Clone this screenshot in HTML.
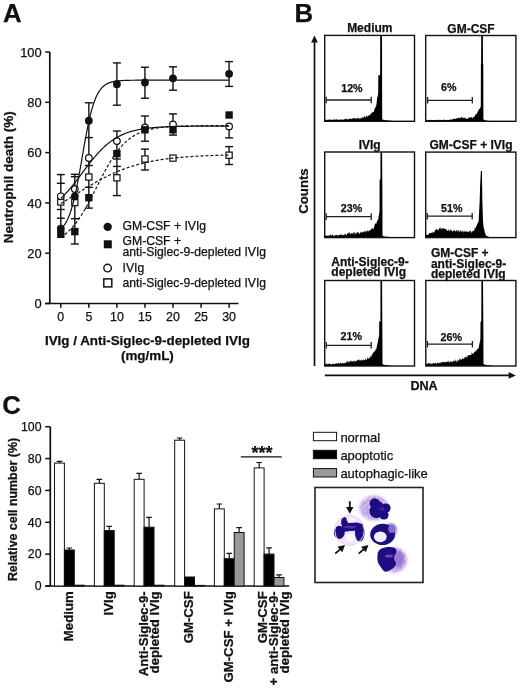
<!DOCTYPE html>
<html><head><meta charset="utf-8"><style>
html,body{margin:0;padding:0;background:#fff;}
svg{display:block;}
text{font-family:"Liberation Sans",Arial,sans-serif;fill:#111;stroke:#111;stroke-width:0.25px;}
</style></head><body>
<svg width="520" height="689" viewBox="0 0 520 689">
<rect width="520" height="689" fill="#fff"/>
<text x="2.90" y="21.80" font-size="25.8" font-weight="bold" text-anchor="start">A</text>
<path d="M49.8 52 V303.5 M45 303.5 H238.5" stroke="#111" stroke-width="1.7" fill="none"/>
<path d="M45.2 303.50 H49.8" stroke="#111" stroke-width="1.5"/>
<text x="41.70" y="308.10" font-size="12.9" text-anchor="end">0</text>
<path d="M45.2 253.20 H49.8" stroke="#111" stroke-width="1.5"/>
<text x="41.70" y="257.80" font-size="12.9" text-anchor="end">20</text>
<path d="M45.2 202.90 H49.8" stroke="#111" stroke-width="1.5"/>
<text x="41.70" y="207.50" font-size="12.9" text-anchor="end">40</text>
<path d="M45.2 152.60 H49.8" stroke="#111" stroke-width="1.5"/>
<text x="41.70" y="157.20" font-size="12.9" text-anchor="end">60</text>
<path d="M45.2 102.30 H49.8" stroke="#111" stroke-width="1.5"/>
<text x="41.70" y="106.90" font-size="12.9" text-anchor="end">80</text>
<path d="M45.2 52.00 H49.8" stroke="#111" stroke-width="1.5"/>
<text x="41.70" y="56.60" font-size="12.9" text-anchor="end">100</text>
<path d="M60.80 303.5 V307.8" stroke="#111" stroke-width="1.5"/>
<text x="60.80" y="321.00" font-size="12.4" text-anchor="middle">0</text>
<path d="M88.85 303.5 V307.8" stroke="#111" stroke-width="1.5"/>
<text x="88.85" y="321.00" font-size="12.4" text-anchor="middle">5</text>
<path d="M116.90 303.5 V307.8" stroke="#111" stroke-width="1.5"/>
<text x="116.90" y="321.00" font-size="12.4" text-anchor="middle">10</text>
<path d="M144.95 303.5 V307.8" stroke="#111" stroke-width="1.5"/>
<text x="144.95" y="321.00" font-size="12.4" text-anchor="middle">15</text>
<path d="M173.00 303.5 V307.8" stroke="#111" stroke-width="1.5"/>
<text x="173.00" y="321.00" font-size="12.4" text-anchor="middle">20</text>
<path d="M201.05 303.5 V307.8" stroke="#111" stroke-width="1.5"/>
<text x="201.05" y="321.00" font-size="12.4" text-anchor="middle">25</text>
<path d="M229.10 303.5 V307.8" stroke="#111" stroke-width="1.5"/>
<text x="229.10" y="321.00" font-size="12.4" text-anchor="middle">30</text>
<text x="13.20" y="177.30" font-size="13.5" font-weight="bold" text-anchor="middle" transform="rotate(-90 13.2 177.3)">Neutrophil death (%)</text>
<text x="147.40" y="345.20" font-size="13.4" font-weight="bold" text-anchor="middle">IVIg / Anti-Siglec-9-depleted IVIg</text>
<text x="147.40" y="359.60" font-size="13.4" font-weight="bold" text-anchor="middle">(mg/mL)</text>
<path d="M60.80 174.6 V229.0" stroke="#111" stroke-width="1.4"/>
<path d="M56.80 174.6 H64.80" stroke="#111" stroke-width="1.4"/>
<path d="M56.80 183.3 H64.80" stroke="#111" stroke-width="1.4"/>
<path d="M56.80 209.5 H64.80" stroke="#111" stroke-width="1.4"/>
<path d="M56.80 218.2 H64.80" stroke="#111" stroke-width="1.4"/>
<path d="M74.83 174.3 V244.0" stroke="#111" stroke-width="1.4"/>
<path d="M70.83 174.3 H78.83" stroke="#111" stroke-width="1.4"/>
<path d="M70.83 176.7 H78.83" stroke="#111" stroke-width="1.4"/>
<path d="M70.83 218.7 H78.83" stroke="#111" stroke-width="1.4"/>
<path d="M70.83 244.0 H78.83" stroke="#111" stroke-width="1.4"/>
<path d="M88.85 102.8 V208.1" stroke="#111" stroke-width="1.4"/>
<path d="M84.85 102.8 H92.85" stroke="#111" stroke-width="1.4"/>
<path d="M84.85 137.6 H92.85" stroke="#111" stroke-width="1.4"/>
<path d="M84.85 165.5 H92.85" stroke="#111" stroke-width="1.4"/>
<path d="M84.85 187.3 H92.85" stroke="#111" stroke-width="1.4"/>
<path d="M84.85 208.1 H92.85" stroke="#111" stroke-width="1.4"/>
<path d="M116.90 62.9 V105.2" stroke="#111" stroke-width="1.4"/>
<path d="M116.90 131.0 V195.6" stroke="#111" stroke-width="1.4"/>
<path d="M112.90 62.9 H120.90" stroke="#111" stroke-width="1.4"/>
<path d="M112.90 105.2 H120.90" stroke="#111" stroke-width="1.4"/>
<path d="M112.90 131.0 H120.90" stroke="#111" stroke-width="1.4"/>
<path d="M112.90 141.1 H120.90" stroke="#111" stroke-width="1.4"/>
<path d="M112.90 166.4 H120.90" stroke="#111" stroke-width="1.4"/>
<path d="M112.90 159.0 H120.90" stroke="#111" stroke-width="1.4"/>
<path d="M112.90 195.6 H120.90" stroke="#111" stroke-width="1.4"/>
<path d="M144.95 67.2 V98.2" stroke="#111" stroke-width="1.4"/>
<path d="M144.95 116.0 V141.2" stroke="#111" stroke-width="1.4"/>
<path d="M144.95 149.1 V170.0" stroke="#111" stroke-width="1.4"/>
<path d="M140.95 67.2 H148.95" stroke="#111" stroke-width="1.4"/>
<path d="M140.95 98.2 H148.95" stroke="#111" stroke-width="1.4"/>
<path d="M140.95 116.0 H148.95" stroke="#111" stroke-width="1.4"/>
<path d="M140.95 141.2 H148.95" stroke="#111" stroke-width="1.4"/>
<path d="M140.95 149.1 H148.95" stroke="#111" stroke-width="1.4"/>
<path d="M140.95 170.0 H148.95" stroke="#111" stroke-width="1.4"/>
<path d="M173.00 66.8 V90.2" stroke="#111" stroke-width="1.4"/>
<path d="M173.00 113.9 V135.1" stroke="#111" stroke-width="1.4"/>
<path d="M169.00 66.8 H177.00" stroke="#111" stroke-width="1.4"/>
<path d="M169.00 90.2 H177.00" stroke="#111" stroke-width="1.4"/>
<path d="M169.00 113.9 H177.00" stroke="#111" stroke-width="1.4"/>
<path d="M169.00 135.1 H177.00" stroke="#111" stroke-width="1.4"/>
<path d="M229.10 61.6 V86.4" stroke="#111" stroke-width="1.4"/>
<path d="M229.10 126.4 V137.9" stroke="#111" stroke-width="1.4"/>
<path d="M229.10 146.6 V164.5" stroke="#111" stroke-width="1.4"/>
<path d="M225.10 61.6 H233.10" stroke="#111" stroke-width="1.4"/>
<path d="M225.10 86.4 H233.10" stroke="#111" stroke-width="1.4"/>
<path d="M225.10 137.9 H233.10" stroke="#111" stroke-width="1.4"/>
<path d="M225.10 146.6 H233.10" stroke="#111" stroke-width="1.4"/>
<path d="M225.10 164.5 H233.10" stroke="#111" stroke-width="1.4"/>
<rect x="57.70" y="198.90" width="6.20" height="6.20" fill="#fff" stroke="#111" stroke-width="1.2"/>
<rect x="71.72" y="199.50" width="6.20" height="6.20" fill="#fff" stroke="#111" stroke-width="1.2"/>
<rect x="85.75" y="173.90" width="6.20" height="6.20" fill="#fff" stroke="#111" stroke-width="1.2"/>
<rect x="113.80" y="174.70" width="6.20" height="6.20" fill="#fff" stroke="#111" stroke-width="1.2"/>
<rect x="141.85" y="155.90" width="6.20" height="6.20" fill="#fff" stroke="#111" stroke-width="1.2"/>
<rect x="169.90" y="155.00" width="6.20" height="6.20" fill="#fff" stroke="#111" stroke-width="1.2"/>
<rect x="226.00" y="152.10" width="6.20" height="6.20" fill="#fff" stroke="#111" stroke-width="1.2"/>
<circle cx="60.80" cy="196.30" r="3.30" fill="#fff" stroke="#111" stroke-width="1.2"/>
<circle cx="74.83" cy="189.10" r="3.30" fill="#fff" stroke="#111" stroke-width="1.2"/>
<circle cx="88.85" cy="158.00" r="3.30" fill="#fff" stroke="#111" stroke-width="1.2"/>
<circle cx="116.90" cy="141.10" r="3.30" fill="#fff" stroke="#111" stroke-width="1.2"/>
<circle cx="144.95" cy="127.50" r="3.30" fill="#fff" stroke="#111" stroke-width="1.2"/>
<circle cx="173.00" cy="124.50" r="3.30" fill="#fff" stroke="#111" stroke-width="1.2"/>
<circle cx="229.10" cy="126.40" r="3.30" fill="#fff" stroke="#111" stroke-width="1.2"/>
<path d="M60.80,228.98 L61.36,228.46 L61.92,227.91 L62.48,227.32 L63.04,226.67 L63.60,225.98 L64.17,225.23 L64.73,224.43 L65.29,223.57 L65.85,222.64 L66.41,221.64 L66.97,220.57 L67.53,219.43 L68.09,218.21 L68.65,216.90 L69.22,215.51 L69.78,214.03 L70.34,212.45 L70.90,210.78 L71.46,209.00 L72.02,207.13 L72.58,205.15 L73.14,203.07 L73.70,200.88 L74.26,198.59 L74.83,196.19 L75.39,193.69 L75.95,191.09 L76.51,188.39 L77.07,185.61 L77.63,182.73 L78.19,179.78 L78.75,176.75 L79.31,173.67 L79.87,170.52 L80.44,167.34 L81.00,164.12 L81.56,160.87 L82.12,157.62 L82.68,154.36 L83.24,151.12 L83.80,147.90 L84.36,144.71 L84.92,141.57 L85.48,138.48 L86.05,135.46 L86.61,132.50 L87.17,129.63 L87.73,126.84 L88.29,124.15 L88.85,121.55 L89.41,119.05 L89.97,116.65 L90.53,114.35 L91.09,112.17 L91.66,110.08 L92.22,108.11 L92.78,106.23 L93.34,104.46 L93.90,102.79 L94.46,101.21 L95.02,99.73 L95.58,98.33 L96.14,97.03 L96.70,95.81 L97.27,94.66 L97.83,93.59 L98.39,92.60 L98.95,91.67 L99.51,90.81 L100.07,90.00 L100.63,89.26 L101.19,88.56 L101.75,87.92 L102.31,87.32 L102.88,86.77 L103.44,86.26 L104.00,85.78 L104.56,85.35 L105.12,84.94 L105.68,84.57 L106.24,84.22 L106.80,83.90 L107.36,83.61 L107.92,83.34 L108.48,83.09 L109.05,82.85 L109.61,82.64 L110.17,82.44 L110.73,82.26 L111.29,82.10 L111.85,81.94 L112.41,81.80 L112.97,81.67 L113.53,81.55 L114.09,81.44 L114.66,81.34 L115.22,81.24 L115.78,81.16 L116.34,81.08 L116.90,81.01 L117.46,80.94 L118.02,80.88 L118.58,80.82 L119.14,80.77 L119.70,80.72 L120.27,80.67 L120.83,80.63 L121.39,80.60 L121.95,80.56 L122.51,80.53 L123.07,80.50 L123.63,80.47 L124.19,80.45 L124.75,80.43 L125.31,80.41 L125.88,80.39 L126.44,80.37 L127.00,80.35 L127.56,80.34 L128.12,80.32 L128.68,80.31 L129.24,80.30 L129.80,80.29 L130.36,80.28 L130.93,80.27 L131.49,80.26 L132.05,80.25 L132.61,80.25 L133.17,80.24 L133.73,80.24 L134.29,80.23 L134.85,80.23 L135.41,80.22 L135.97,80.22 L136.53,80.21 L137.10,80.21 L137.66,80.21 L138.22,80.20 L138.78,80.20 L139.34,80.20 L139.90,80.19 L140.46,80.19 L141.02,80.19 L141.58,80.19 L142.14,80.19 L142.71,80.19 L143.27,80.18 L143.83,80.18 L144.39,80.18 L144.95,80.18 L145.51,80.18 L146.07,80.18 L146.63,80.18 L147.19,80.18 L147.75,80.18 L148.32,80.18 L148.88,80.17 L149.44,80.17 L150.00,80.17 L150.56,80.17 L151.12,80.17 L151.68,80.17 L152.24,80.17 L152.80,80.17 L153.37,80.17 L153.93,80.17 L154.49,80.17 L155.05,80.17 L155.61,80.17 L156.17,80.17 L156.73,80.17 L157.29,80.17 L157.85,80.17 L158.41,80.17 L158.98,80.17 L159.54,80.17 L160.10,80.17 L160.66,80.17 L161.22,80.17 L161.78,80.17 L162.34,80.17 L162.90,80.17 L163.46,80.17 L164.02,80.17 L164.59,80.17 L165.15,80.17 L165.71,80.17 L166.27,80.17 L166.83,80.17 L167.39,80.17 L167.95,80.17 L168.51,80.17 L169.07,80.17 L169.63,80.17 L170.19,80.17 L170.76,80.17 L171.32,80.17 L171.88,80.17 L172.44,80.17 L173.00,80.17 L173.56,80.17 L174.12,80.17 L174.68,80.17 L175.24,80.17 L175.81,80.17 L176.37,80.17 L176.93,80.17 L177.49,80.17 L178.05,80.17 L178.61,80.17 L179.17,80.17 L179.73,80.17 L180.29,80.17 L180.85,80.17 L181.42,80.17 L181.98,80.17 L182.54,80.17 L183.10,80.17 L183.66,80.17 L184.22,80.17 L184.78,80.17 L185.34,80.17 L185.90,80.17 L186.46,80.17 L187.03,80.17 L187.59,80.17 L188.15,80.17 L188.71,80.17 L189.27,80.17 L189.83,80.17 L190.39,80.17 L190.95,80.17 L191.51,80.17 L192.07,80.17 L192.63,80.17 L193.20,80.17 L193.76,80.17 L194.32,80.17 L194.88,80.17 L195.44,80.17 L196.00,80.17 L196.56,80.17 L197.12,80.17 L197.68,80.17 L198.25,80.17 L198.81,80.17 L199.37,80.17 L199.93,80.17 L200.49,80.17 L201.05,80.17 L201.61,80.17 L202.17,80.17 L202.73,80.17 L203.29,80.17 L203.86,80.17 L204.42,80.17 L204.98,80.17 L205.54,80.17 L206.10,80.17 L206.66,80.17 L207.22,80.17 L207.78,80.17 L208.34,80.17 L208.90,80.17 L209.47,80.17 L210.03,80.17 L210.59,80.17 L211.15,80.17 L211.71,80.17 L212.27,80.17 L212.83,80.17 L213.39,80.17 L213.95,80.17 L214.51,80.17 L215.07,80.17 L215.64,80.17 L216.20,80.17 L216.76,80.17 L217.32,80.17 L217.88,80.17 L218.44,80.17 L219.00,80.17 L219.56,80.17 L220.12,80.17 L220.69,80.17 L221.25,80.17 L221.81,80.17 L222.37,80.17 L222.93,80.17 L223.49,80.17 L224.05,80.17 L224.61,80.17 L225.17,80.17 L225.73,80.17 L226.30,80.17 L226.86,80.17 L227.42,80.17 L227.98,80.17 L228.54,80.17 L229.10,80.17" stroke="#111" stroke-width="1.2" fill="none"/>
<path d="M60.80,198.41 L61.36,197.89 L61.92,197.35 L62.48,196.81 L63.04,196.25 L63.60,195.69 L64.17,195.12 L64.73,194.54 L65.29,193.95 L65.85,193.35 L66.41,192.74 L66.97,192.13 L67.53,191.50 L68.09,190.87 L68.65,190.23 L69.22,189.58 L69.78,188.93 L70.34,188.27 L70.90,187.60 L71.46,186.92 L72.02,186.24 L72.58,185.55 L73.14,184.85 L73.70,184.15 L74.26,183.44 L74.83,182.73 L75.39,182.01 L75.95,181.29 L76.51,180.57 L77.07,179.83 L77.63,179.10 L78.19,178.36 L78.75,177.62 L79.31,176.88 L79.87,176.14 L80.44,175.39 L81.00,174.64 L81.56,173.89 L82.12,173.14 L82.68,172.39 L83.24,171.65 L83.80,170.90 L84.36,170.15 L84.92,169.40 L85.48,168.66 L86.05,167.91 L86.61,167.17 L87.17,166.44 L87.73,165.70 L88.29,164.97 L88.85,164.24 L89.41,163.52 L89.97,162.80 L90.53,162.09 L91.09,161.38 L91.66,160.68 L92.22,159.98 L92.78,159.29 L93.34,158.61 L93.90,157.93 L94.46,157.26 L95.02,156.59 L95.58,155.94 L96.14,155.29 L96.70,154.65 L97.27,154.01 L97.83,153.39 L98.39,152.77 L98.95,152.16 L99.51,151.56 L100.07,150.97 L100.63,150.39 L101.19,149.81 L101.75,149.25 L102.31,148.69 L102.88,148.15 L103.44,147.61 L104.00,147.08 L104.56,146.56 L105.12,146.05 L105.68,145.55 L106.24,145.06 L106.80,144.58 L107.36,144.11 L107.92,143.65 L108.48,143.19 L109.05,142.75 L109.61,142.31 L110.17,141.88 L110.73,141.47 L111.29,141.06 L111.85,140.66 L112.41,140.27 L112.97,139.88 L113.53,139.51 L114.09,139.14 L114.66,138.79 L115.22,138.44 L115.78,138.10 L116.34,137.76 L116.90,137.44 L117.46,137.12 L118.02,136.81 L118.58,136.51 L119.14,136.21 L119.70,135.93 L120.27,135.65 L120.83,135.37 L121.39,135.11 L121.95,134.85 L122.51,134.60 L123.07,134.35 L123.63,134.11 L124.19,133.88 L124.75,133.65 L125.31,133.43 L125.88,133.21 L126.44,133.01 L127.00,132.80 L127.56,132.60 L128.12,132.41 L128.68,132.22 L129.24,132.04 L129.80,131.86 L130.36,131.69 L130.93,131.52 L131.49,131.36 L132.05,131.20 L132.61,131.05 L133.17,130.90 L133.73,130.75 L134.29,130.61 L134.85,130.48 L135.41,130.34 L135.97,130.21 L136.53,130.09 L137.10,129.97 L137.66,129.85 L138.22,129.73 L138.78,129.62 L139.34,129.51 L139.90,129.41 L140.46,129.31 L141.02,129.21 L141.58,129.11 L142.14,129.02 L142.71,128.93 L143.27,128.84 L143.83,128.75 L144.39,128.67 L144.95,128.59 L145.51,128.51 L146.07,128.44 L146.63,128.36 L147.19,128.29 L147.75,128.22 L148.32,128.16 L148.88,128.09 L149.44,128.03 L150.00,127.97 L150.56,127.91 L151.12,127.85 L151.68,127.80 L152.24,127.74 L152.80,127.69 L153.37,127.64 L153.93,127.59 L154.49,127.54 L155.05,127.50 L155.61,127.45 L156.17,127.41 L156.73,127.37 L157.29,127.33 L157.85,127.29 L158.41,127.25 L158.98,127.21 L159.54,127.18 L160.10,127.14 L160.66,127.11 L161.22,127.08 L161.78,127.05 L162.34,127.01 L162.90,126.98 L163.46,126.96 L164.02,126.93 L164.59,126.90 L165.15,126.87 L165.71,126.85 L166.27,126.83 L166.83,126.80 L167.39,126.78 L167.95,126.76 L168.51,126.73 L169.07,126.71 L169.63,126.69 L170.19,126.67 L170.76,126.65 L171.32,126.64 L171.88,126.62 L172.44,126.60 L173.00,126.58 L173.56,126.57 L174.12,126.55 L174.68,126.54 L175.24,126.52 L175.81,126.51 L176.37,126.49 L176.93,126.48 L177.49,126.47 L178.05,126.45 L178.61,126.44 L179.17,126.43 L179.73,126.42 L180.29,126.41 L180.85,126.40 L181.42,126.39 L181.98,126.38 L182.54,126.37 L183.10,126.36 L183.66,126.35 L184.22,126.34 L184.78,126.33 L185.34,126.32 L185.90,126.31 L186.46,126.31 L187.03,126.30 L187.59,126.29 L188.15,126.28 L188.71,126.28 L189.27,126.27 L189.83,126.26 L190.39,126.26 L190.95,126.25 L191.51,126.25 L192.07,126.24 L192.63,126.24 L193.20,126.23 L193.76,126.22 L194.32,126.22 L194.88,126.21 L195.44,126.21 L196.00,126.21 L196.56,126.20 L197.12,126.20 L197.68,126.19 L198.25,126.19 L198.81,126.19 L199.37,126.18 L199.93,126.18 L200.49,126.17 L201.05,126.17 L201.61,126.17 L202.17,126.16 L202.73,126.16 L203.29,126.16 L203.86,126.16 L204.42,126.15 L204.98,126.15 L205.54,126.15 L206.10,126.14 L206.66,126.14 L207.22,126.14 L207.78,126.14 L208.34,126.14 L208.90,126.13 L209.47,126.13 L210.03,126.13 L210.59,126.13 L211.15,126.13 L211.71,126.12 L212.27,126.12 L212.83,126.12 L213.39,126.12 L213.95,126.12 L214.51,126.11 L215.07,126.11 L215.64,126.11 L216.20,126.11 L216.76,126.11 L217.32,126.11 L217.88,126.11 L218.44,126.11 L219.00,126.10 L219.56,126.10 L220.12,126.10 L220.69,126.10 L221.25,126.10 L221.81,126.10 L222.37,126.10 L222.93,126.10 L223.49,126.10 L224.05,126.09 L224.61,126.09 L225.17,126.09 L225.73,126.09 L226.30,126.09 L226.86,126.09 L227.42,126.09 L227.98,126.09 L228.54,126.09 L229.10,126.09" stroke="#111" stroke-width="1.2" fill="none"/>
<path d="M60.80,237.47 L61.36,237.10 L61.92,236.72 L62.48,236.33 L63.04,235.92 L63.60,235.51 L64.17,235.08 L64.73,234.64 L65.29,234.19 L65.85,233.72 L66.41,233.24 L66.97,232.75 L67.53,232.25 L68.09,231.73 L68.65,231.20 L69.22,230.65 L69.78,230.09 L70.34,229.52 L70.90,228.93 L71.46,228.33 L72.02,227.71 L72.58,227.08 L73.14,226.43 L73.70,225.77 L74.26,225.09 L74.83,224.39 L75.39,223.68 L75.95,222.96 L76.51,222.22 L77.07,221.47 L77.63,220.69 L78.19,219.91 L78.75,219.11 L79.31,218.29 L79.87,217.46 L80.44,216.61 L81.00,215.75 L81.56,214.88 L82.12,213.99 L82.68,213.08 L83.24,212.16 L83.80,211.23 L84.36,210.28 L84.92,209.33 L85.48,208.35 L86.05,207.37 L86.61,206.38 L87.17,205.37 L87.73,204.35 L88.29,203.33 L88.85,202.29 L89.41,201.24 L89.97,200.19 L90.53,199.12 L91.09,198.05 L91.66,196.97 L92.22,195.89 L92.78,194.80 L93.34,193.70 L93.90,192.60 L94.46,191.50 L95.02,190.40 L95.58,189.29 L96.14,188.18 L96.70,187.07 L97.27,185.96 L97.83,184.85 L98.39,183.74 L98.95,182.64 L99.51,181.53 L100.07,180.43 L100.63,179.34 L101.19,178.25 L101.75,177.16 L102.31,176.09 L102.88,175.01 L103.44,173.95 L104.00,172.89 L104.56,171.85 L105.12,170.81 L105.68,169.78 L106.24,168.77 L106.80,167.76 L107.36,166.76 L107.92,165.78 L108.48,164.81 L109.05,163.85 L109.61,162.91 L110.17,161.97 L110.73,161.06 L111.29,160.15 L111.85,159.26 L112.41,158.38 L112.97,157.52 L113.53,156.68 L114.09,155.85 L114.66,155.03 L115.22,154.23 L115.78,153.44 L116.34,152.67 L116.90,151.92 L117.46,151.18 L118.02,150.45 L118.58,149.74 L119.14,149.05 L119.70,148.37 L120.27,147.71 L120.83,147.06 L121.39,146.43 L121.95,145.81 L122.51,145.21 L123.07,144.62 L123.63,144.04 L124.19,143.48 L124.75,142.94 L125.31,142.41 L125.88,141.89 L126.44,141.38 L127.00,140.89 L127.56,140.41 L128.12,139.95 L128.68,139.50 L129.24,139.06 L129.80,138.63 L130.36,138.21 L130.93,137.81 L131.49,137.42 L132.05,137.04 L132.61,136.67 L133.17,136.31 L133.73,135.96 L134.29,135.62 L134.85,135.29 L135.41,134.97 L135.97,134.66 L136.53,134.36 L137.10,134.07 L137.66,133.79 L138.22,133.52 L138.78,133.26 L139.34,133.00 L139.90,132.75 L140.46,132.51 L141.02,132.28 L141.58,132.05 L142.14,131.83 L142.71,131.62 L143.27,131.42 L143.83,131.22 L144.39,131.03 L144.95,130.84 L145.51,130.66 L146.07,130.49 L146.63,130.32 L147.19,130.16 L147.75,130.00 L148.32,129.85 L148.88,129.70 L149.44,129.56 L150.00,129.42 L150.56,129.29 L151.12,129.16 L151.68,129.04 L152.24,128.92 L152.80,128.80 L153.37,128.69 L153.93,128.58 L154.49,128.48 L155.05,128.38 L155.61,128.28 L156.17,128.19 L156.73,128.09 L157.29,128.01 L157.85,127.92 L158.41,127.84 L158.98,127.76 L159.54,127.68 L160.10,127.61 L160.66,127.54 L161.22,127.47 L161.78,127.40 L162.34,127.34 L162.90,127.28 L163.46,127.22 L164.02,127.16 L164.59,127.10 L165.15,127.05 L165.71,127.00 L166.27,126.95 L166.83,126.90 L167.39,126.85 L167.95,126.81 L168.51,126.76 L169.07,126.72 L169.63,126.68 L170.19,126.64 L170.76,126.60 L171.32,126.57 L171.88,126.53 L172.44,126.50 L173.00,126.46 L173.56,126.43 L174.12,126.40 L174.68,126.37 L175.24,126.34 L175.81,126.32 L176.37,126.29 L176.93,126.26 L177.49,126.24 L178.05,126.22 L178.61,126.19 L179.17,126.17 L179.73,126.15 L180.29,126.13 L180.85,126.11 L181.42,126.09 L181.98,126.07 L182.54,126.05 L183.10,126.04 L183.66,126.02 L184.22,126.00 L184.78,125.99 L185.34,125.97 L185.90,125.96 L186.46,125.94 L187.03,125.93 L187.59,125.92 L188.15,125.91 L188.71,125.89 L189.27,125.88 L189.83,125.87 L190.39,125.86 L190.95,125.85 L191.51,125.84 L192.07,125.83 L192.63,125.82 L193.20,125.81 L193.76,125.80 L194.32,125.79 L194.88,125.79 L195.44,125.78 L196.00,125.77 L196.56,125.76 L197.12,125.76 L197.68,125.75 L198.25,125.74 L198.81,125.74 L199.37,125.73 L199.93,125.72 L200.49,125.72 L201.05,125.71 L201.61,125.71 L202.17,125.70 L202.73,125.70 L203.29,125.69 L203.86,125.69 L204.42,125.68 L204.98,125.68 L205.54,125.68 L206.10,125.67 L206.66,125.67 L207.22,125.66 L207.78,125.66 L208.34,125.66 L208.90,125.65 L209.47,125.65 L210.03,125.65 L210.59,125.64 L211.15,125.64 L211.71,125.64 L212.27,125.64 L212.83,125.63 L213.39,125.63 L213.95,125.63 L214.51,125.63 L215.07,125.62 L215.64,125.62 L216.20,125.62 L216.76,125.62 L217.32,125.62 L217.88,125.61 L218.44,125.61 L219.00,125.61 L219.56,125.61 L220.12,125.61 L220.69,125.61 L221.25,125.60 L221.81,125.60 L222.37,125.60 L222.93,125.60 L223.49,125.60 L224.05,125.60 L224.61,125.60 L225.17,125.60 L225.73,125.59 L226.30,125.59 L226.86,125.59 L227.42,125.59 L227.98,125.59 L228.54,125.59 L229.10,125.59" stroke="#111" stroke-width="1.2" fill="none" stroke-dasharray="3 2"/>
<path d="M60.80,203.59 L61.36,203.26 L61.92,202.92 L62.48,202.58 L63.04,202.24 L63.60,201.90 L64.17,201.56 L64.73,201.22 L65.29,200.87 L65.85,200.53 L66.41,200.18 L66.97,199.84 L67.53,199.49 L68.09,199.14 L68.65,198.80 L69.22,198.45 L69.78,198.10 L70.34,197.75 L70.90,197.40 L71.46,197.05 L72.02,196.70 L72.58,196.35 L73.14,196.00 L73.70,195.65 L74.26,195.30 L74.83,194.95 L75.39,194.59 L75.95,194.24 L76.51,193.89 L77.07,193.54 L77.63,193.19 L78.19,192.84 L78.75,192.49 L79.31,192.14 L79.87,191.79 L80.44,191.44 L81.00,191.10 L81.56,190.75 L82.12,190.40 L82.68,190.05 L83.24,189.71 L83.80,189.36 L84.36,189.02 L84.92,188.68 L85.48,188.34 L86.05,187.99 L86.61,187.65 L87.17,187.32 L87.73,186.98 L88.29,186.64 L88.85,186.31 L89.41,185.97 L89.97,185.64 L90.53,185.31 L91.09,184.98 L91.66,184.65 L92.22,184.32 L92.78,183.99 L93.34,183.67 L93.90,183.35 L94.46,183.02 L95.02,182.70 L95.58,182.39 L96.14,182.07 L96.70,181.76 L97.27,181.44 L97.83,181.13 L98.39,180.82 L98.95,180.52 L99.51,180.21 L100.07,179.91 L100.63,179.60 L101.19,179.31 L101.75,179.01 L102.31,178.71 L102.88,178.42 L103.44,178.13 L104.00,177.84 L104.56,177.55 L105.12,177.26 L105.68,176.98 L106.24,176.70 L106.80,176.42 L107.36,176.15 L107.92,175.87 L108.48,175.60 L109.05,175.33 L109.61,175.06 L110.17,174.80 L110.73,174.53 L111.29,174.27 L111.85,174.01 L112.41,173.76 L112.97,173.50 L113.53,173.25 L114.09,173.00 L114.66,172.76 L115.22,172.51 L115.78,172.27 L116.34,172.03 L116.90,171.79 L117.46,171.56 L118.02,171.32 L118.58,171.09 L119.14,170.86 L119.70,170.64 L120.27,170.41 L120.83,170.19 L121.39,169.97 L121.95,169.76 L122.51,169.54 L123.07,169.33 L123.63,169.12 L124.19,168.91 L124.75,168.71 L125.31,168.50 L125.88,168.30 L126.44,168.11 L127.00,167.91 L127.56,167.72 L128.12,167.52 L128.68,167.33 L129.24,167.15 L129.80,166.96 L130.36,166.78 L130.93,166.60 L131.49,166.42 L132.05,166.24 L132.61,166.07 L133.17,165.90 L133.73,165.73 L134.29,165.56 L134.85,165.39 L135.41,165.23 L135.97,165.07 L136.53,164.91 L137.10,164.75 L137.66,164.60 L138.22,164.44 L138.78,164.29 L139.34,164.14 L139.90,163.99 L140.46,163.85 L141.02,163.70 L141.58,163.56 L142.14,163.42 L142.71,163.28 L143.27,163.15 L143.83,163.01 L144.39,162.88 L144.95,162.75 L145.51,162.62 L146.07,162.49 L146.63,162.37 L147.19,162.24 L147.75,162.12 L148.32,162.00 L148.88,161.88 L149.44,161.77 L150.00,161.65 L150.56,161.54 L151.12,161.42 L151.68,161.31 L152.24,161.21 L152.80,161.10 L153.37,160.99 L153.93,160.89 L154.49,160.78 L155.05,160.68 L155.61,160.58 L156.17,160.48 L156.73,160.39 L157.29,160.29 L157.85,160.20 L158.41,160.10 L158.98,160.01 L159.54,159.92 L160.10,159.83 L160.66,159.75 L161.22,159.66 L161.78,159.58 L162.34,159.49 L162.90,159.41 L163.46,159.33 L164.02,159.25 L164.59,159.17 L165.15,159.09 L165.71,159.02 L166.27,158.94 L166.83,158.87 L167.39,158.79 L167.95,158.72 L168.51,158.65 L169.07,158.58 L169.63,158.51 L170.19,158.44 L170.76,158.38 L171.32,158.31 L171.88,158.25 L172.44,158.19 L173.00,158.12 L173.56,158.06 L174.12,158.00 L174.68,157.94 L175.24,157.88 L175.81,157.82 L176.37,157.77 L176.93,157.71 L177.49,157.66 L178.05,157.60 L178.61,157.55 L179.17,157.50 L179.73,157.45 L180.29,157.39 L180.85,157.34 L181.42,157.29 L181.98,157.25 L182.54,157.20 L183.10,157.15 L183.66,157.11 L184.22,157.06 L184.78,157.02 L185.34,156.97 L185.90,156.93 L186.46,156.89 L187.03,156.84 L187.59,156.80 L188.15,156.76 L188.71,156.72 L189.27,156.68 L189.83,156.64 L190.39,156.61 L190.95,156.57 L191.51,156.53 L192.07,156.50 L192.63,156.46 L193.20,156.42 L193.76,156.39 L194.32,156.36 L194.88,156.32 L195.44,156.29 L196.00,156.26 L196.56,156.23 L197.12,156.20 L197.68,156.16 L198.25,156.13 L198.81,156.10 L199.37,156.08 L199.93,156.05 L200.49,156.02 L201.05,155.99 L201.61,155.96 L202.17,155.94 L202.73,155.91 L203.29,155.88 L203.86,155.86 L204.42,155.83 L204.98,155.81 L205.54,155.78 L206.10,155.76 L206.66,155.74 L207.22,155.71 L207.78,155.69 L208.34,155.67 L208.90,155.65 L209.47,155.62 L210.03,155.60 L210.59,155.58 L211.15,155.56 L211.71,155.54 L212.27,155.52 L212.83,155.50 L213.39,155.48 L213.95,155.46 L214.51,155.44 L215.07,155.43 L215.64,155.41 L216.20,155.39 L216.76,155.37 L217.32,155.36 L217.88,155.34 L218.44,155.32 L219.00,155.31 L219.56,155.29 L220.12,155.27 L220.69,155.26 L221.25,155.24 L221.81,155.23 L222.37,155.21 L222.93,155.20 L223.49,155.19 L224.05,155.17 L224.61,155.16 L225.17,155.14 L225.73,155.13 L226.30,155.12 L226.86,155.11 L227.42,155.09 L227.98,155.08 L228.54,155.07 L229.10,155.06" stroke="#111" stroke-width="1.2" fill="none" stroke-dasharray="3 2"/>
<rect x="57.10" y="230.60" width="7.4" height="7.4" fill="#111"/>
<rect x="71.12" y="227.90" width="7.4" height="7.4" fill="#111"/>
<rect x="85.15" y="194.00" width="7.4" height="7.4" fill="#111"/>
<rect x="113.20" y="149.90" width="7.4" height="7.4" fill="#111"/>
<rect x="141.25" y="126.10" width="7.4" height="7.4" fill="#111"/>
<rect x="169.30" y="126.10" width="7.4" height="7.4" fill="#111"/>
<rect x="225.40" y="111.30" width="7.4" height="7.4" fill="#111"/>
<circle cx="60.80" cy="228.60" r="3.9" fill="#111"/>
<circle cx="74.83" cy="196.40" r="3.9" fill="#111"/>
<circle cx="88.85" cy="120.70" r="3.9" fill="#111"/>
<circle cx="116.90" cy="84.20" r="3.9" fill="#111"/>
<circle cx="144.95" cy="82.50" r="3.9" fill="#111"/>
<circle cx="173.00" cy="78.30" r="3.9" fill="#111"/>
<circle cx="229.10" cy="73.80" r="3.9" fill="#111"/>
<circle cx="107.7" cy="226.9" r="4.2" fill="#111"/>
<rect x="103.8" y="240.3" width="8.0" height="8.0" fill="#111"/>
<circle cx="107.6" cy="268.1" r="3.8" fill="#fff" stroke="#111" stroke-width="1.4"/>
<rect x="103.8" y="278.9" width="8.0" height="8.0" fill="#fff" stroke="#111" stroke-width="1.5"/>
<text x="122.50" y="230.10" font-size="12.2" text-anchor="start">GM-CSF + IVIg</text>
<text x="122.50" y="245.30" font-size="12.2" text-anchor="start">GM-CSF +</text>
<text x="122.50" y="255.60" font-size="12.2" text-anchor="start">anti-Siglec-9-depleted IVIg</text>
<text x="122.50" y="272.20" font-size="12.2" text-anchor="start">IVIg</text>
<text x="122.50" y="286.90" font-size="12.2" text-anchor="start">anti-Siglec-9-depleted IVIg</text>
<text x="294.60" y="21.80" font-size="25.8" font-weight="bold" text-anchor="start">B</text>
<polygon points="324.7,121.3 324.7,119.33 325.1,119.67 325.5,119.75 325.9,120.27 326.3,119.84 326.7,119.85 327.1,119.76 327.5,119.90 327.9,119.73 328.3,119.84 328.7,120.07 329.1,119.44 329.5,119.43 329.9,119.18 330.3,119.65 330.7,119.77 331.1,119.80 331.5,120.08 331.9,119.33 332.3,119.94 332.7,119.95 333.1,119.65 333.5,119.14 333.9,119.50 334.3,119.87 334.7,119.77 335.1,119.35 335.5,119.58 335.9,119.76 336.3,119.59 336.7,119.27 337.1,118.87 337.5,119.88 337.9,119.67 338.3,119.72 338.7,120.24 339.1,119.75 339.5,119.77 339.9,119.06 340.3,119.46 340.7,119.94 341.1,119.18 341.5,119.51 341.9,119.96 342.3,119.57 342.7,119.56 343.1,119.65 343.5,119.33 343.9,120.10 344.3,119.41 344.7,118.95 345.1,118.99 345.5,118.87 345.9,118.83 346.3,118.65 346.7,119.59 347.1,118.82 347.5,119.82 347.9,119.31 348.3,119.80 348.7,118.60 349.1,118.44 349.5,119.03 349.9,118.18 350.3,119.18 350.7,118.80 351.1,118.76 351.5,119.27 351.9,118.58 352.3,117.87 352.7,119.17 353.1,118.26 353.5,118.72 353.9,117.78 354.3,118.35 354.7,118.23 355.1,118.21 355.5,118.37 355.9,119.15 356.3,117.73 356.7,119.10 357.1,118.25 357.5,118.02 357.9,118.75 358.3,118.17 358.7,117.53 359.1,118.11 359.5,118.53 359.9,119.66 360.3,118.45 360.7,118.16 361.1,118.04 361.5,118.26 361.9,117.32 362.3,117.88 362.7,117.49 363.1,116.87 363.5,117.87 363.9,117.41 364.3,115.54 364.7,116.39 365.1,117.95 365.5,116.96 365.9,116.38 366.3,115.65 366.7,116.32 367.1,116.72 367.5,116.71 367.9,115.26 368.3,115.37 368.7,115.92 369.1,115.42 369.5,115.43 369.9,114.19 370.3,115.14 370.7,113.68 371.1,112.96 371.5,112.90 371.9,113.71 372.3,111.34 372.7,112.79 373.1,111.40 373.5,112.08 373.9,112.26 374.3,109.64 374.7,108.75 375.1,108.25 375.5,107.09 375.9,107.10 376.3,105.20 376.7,102.32 377.1,98.06 377.5,96.69 377.9,95.55 378.20,93.30 378.30,75.30 380.10,75.30 380.20,35.40 382.00,35.40 382.20,119.30 384.00,120.10 389.00,120.50 395.00,121.30 414.5,121.3" fill="#000"/>
<rect x="324.7" y="35.4" width="89.8" height="85.9" fill="none" stroke="#111" stroke-width="1.4"/>
<polygon points="425.7,121.3 425.7,119.96 426.1,120.21 426.5,120.20 426.9,119.87 427.3,120.21 427.7,120.49 428.1,120.29 428.5,120.04 428.9,120.03 429.3,119.75 429.7,120.23 430.1,119.87 430.5,119.94 430.9,120.07 431.3,119.83 431.7,119.91 432.1,120.23 432.5,119.75 432.9,120.31 433.3,119.99 433.7,120.00 434.1,119.89 434.5,120.17 434.9,119.99 435.3,120.02 435.7,119.73 436.1,120.17 436.5,119.95 436.9,120.03 437.3,120.27 437.7,119.30 438.1,119.96 438.5,120.31 438.9,119.59 439.3,120.19 439.7,119.84 440.1,119.71 440.5,120.08 440.9,120.02 441.3,120.04 441.7,119.93 442.1,120.30 442.5,120.20 442.9,119.92 443.3,119.63 443.7,119.72 444.1,119.44 444.5,119.69 444.9,119.99 445.3,119.89 445.7,120.37 446.1,120.09 446.5,120.10 446.9,119.77 447.3,119.67 447.7,119.97 448.1,119.98 448.5,120.22 448.9,119.85 449.3,119.74 449.7,119.69 450.1,119.99 450.5,119.15 450.9,119.28 451.3,119.59 451.7,119.65 452.1,119.51 452.5,119.28 452.9,119.26 453.3,119.00 453.7,118.81 454.1,118.49 454.5,118.49 454.9,118.93 455.3,118.64 455.7,118.91 456.1,118.93 456.5,117.67 456.9,118.73 457.3,117.43 457.7,118.54 458.1,118.14 458.5,117.58 458.9,118.06 459.3,117.75 459.7,118.02 460.1,118.07 460.5,117.78 460.9,118.00 461.3,116.38 461.7,117.49 462.1,116.14 462.5,119.28 462.9,117.63 463.3,117.44 463.7,118.11 464.1,117.47 464.5,117.89 464.9,118.53 465.3,118.33 465.7,117.40 466.1,118.67 466.5,118.58 466.9,118.85 467.3,118.52 467.7,119.14 468.1,118.55 468.5,117.13 468.9,117.76 469.3,117.91 469.7,117.58 470.1,117.07 470.5,117.71 470.9,116.78 471.3,117.28 471.7,117.75 472.1,116.67 472.5,119.06 472.9,117.64 473.3,116.79 473.7,117.47 474.1,116.62 474.5,116.80 474.9,116.58 475.3,113.27 475.7,114.92 476.1,115.20 476.5,113.33 476.9,114.13 477.3,112.49 477.7,112.04 478.1,109.94 478.5,111.77 478.9,108.84 479.3,108.69 479.7,109.19 480.80,106.30 480.90,64.30 481.10,64.30 481.20,35.50 482.90,35.50 483.00,64.30 483.30,64.30 483.40,119.30 485.00,120.30 490.00,121.30 515.9,121.3" fill="#000"/>
<rect x="425.7" y="35.5" width="90.2" height="85.8" fill="none" stroke="#111" stroke-width="1.4"/>
<polygon points="324.7,237.6 324.7,235.46 325.1,236.05 325.5,235.23 325.9,235.56 326.3,235.47 326.7,235.65 327.1,235.35 327.5,236.28 327.9,235.58 328.3,235.81 328.7,235.46 329.1,235.56 329.5,235.29 329.9,235.80 330.3,234.78 330.7,234.57 331.1,235.50 331.5,235.40 331.9,235.26 332.3,234.85 332.7,234.57 333.1,235.79 333.5,235.53 333.9,235.69 334.3,235.69 334.7,235.89 335.1,235.03 335.5,235.66 335.9,234.49 336.3,234.72 336.7,235.54 337.1,235.52 337.5,235.32 337.9,234.39 338.3,235.38 338.7,235.66 339.1,234.97 339.5,234.75 339.9,235.21 340.3,234.11 340.7,234.74 341.1,234.61 341.5,235.23 341.9,234.80 342.3,234.84 342.7,235.87 343.1,234.57 343.5,235.60 343.9,234.68 344.3,235.40 344.7,233.56 345.1,234.39 345.5,233.94 345.9,233.73 346.3,234.93 346.7,235.42 347.1,234.04 347.5,233.06 347.9,233.47 348.3,232.80 348.7,232.52 349.1,234.34 349.5,232.94 349.9,231.61 350.3,233.57 350.7,234.70 351.1,233.26 351.5,233.42 351.9,232.70 352.3,233.73 352.7,232.92 353.1,234.77 353.5,232.25 353.9,231.63 354.3,231.84 354.7,234.13 355.1,232.60 355.5,235.33 355.9,232.58 356.3,232.85 356.7,233.62 357.1,232.46 357.5,232.62 357.9,231.91 358.3,232.58 358.7,232.47 359.1,234.33 359.5,233.64 359.9,233.02 360.3,232.29 360.7,232.49 361.1,231.06 361.5,233.14 361.9,232.50 362.3,231.98 362.7,232.36 363.1,231.63 363.5,232.54 363.9,230.66 364.3,232.17 364.7,230.80 365.1,231.78 365.5,230.33 365.9,232.89 366.3,230.97 366.7,231.63 367.1,230.81 367.5,229.73 367.9,231.64 368.3,231.59 368.7,231.09 369.1,229.74 369.5,231.47 369.9,229.46 370.3,230.51 370.7,230.17 371.1,229.25 371.5,228.36 371.9,229.06 372.3,228.73 372.7,228.11 373.1,228.11 373.5,230.09 373.9,227.47 374.3,226.31 374.7,224.70 375.1,223.15 375.5,223.71 375.9,223.56 376.3,223.81 376.7,222.16 377.1,220.85 377.5,219.71 377.9,220.97 379.50,211.60 379.60,179.60 380.40,179.60 380.50,152.00 382.10,152.00 382.30,179.60 382.40,197.60 382.50,235.60 384.00,236.40 388.00,236.80 392.00,237.60 414.5,237.6" fill="#000"/>
<rect x="324.7" y="152.0" width="89.8" height="85.6" fill="none" stroke="#111" stroke-width="1.4"/>
<polygon points="425.7,237.6 425.7,235.52 426.1,235.10 426.5,234.44 426.9,234.91 427.3,235.10 427.7,235.00 428.1,234.65 428.5,234.65 428.9,233.57 429.3,233.19 429.7,233.20 430.1,232.65 430.5,233.65 430.9,232.83 431.3,233.25 431.7,232.71 432.1,231.46 432.5,232.33 432.9,233.76 433.3,232.05 433.7,232.23 434.1,232.71 434.5,231.82 434.9,229.99 435.3,229.09 435.7,230.82 436.1,229.23 436.5,228.83 436.9,230.72 437.3,229.58 437.7,229.52 438.1,229.25 438.5,230.79 438.9,229.58 439.3,228.23 439.7,227.98 440.1,227.39 440.5,229.29 440.9,227.21 441.3,228.24 441.7,230.01 442.1,228.01 442.5,228.96 442.9,228.18 443.3,228.86 443.7,227.78 444.1,228.76 444.5,229.37 444.9,228.34 445.3,229.10 445.7,229.82 446.1,228.40 446.5,230.05 446.9,230.37 447.3,230.39 447.7,231.35 448.1,230.61 448.5,228.44 448.9,230.99 449.3,230.19 449.7,231.23 450.1,230.81 450.5,228.90 450.9,229.49 451.3,230.89 451.7,230.36 452.1,231.14 452.5,231.14 452.9,231.28 453.3,231.29 453.7,230.21 454.1,229.99 454.5,230.12 454.9,230.75 455.3,231.87 455.7,230.73 456.1,231.55 456.5,229.95 456.9,230.28 457.3,230.15 457.7,231.19 458.1,232.56 458.5,230.08 458.9,229.87 459.3,232.38 459.7,230.94 460.1,230.02 460.5,232.13 460.9,229.58 461.3,231.55 461.7,232.25 462.1,230.06 462.5,231.08 462.9,231.98 463.3,230.63 463.7,233.25 464.1,229.86 464.5,232.29 464.9,231.33 465.3,231.94 465.7,231.16 466.1,230.72 466.5,232.25 466.9,230.76 467.3,231.72 467.7,232.06 468.1,231.61 468.5,232.29 468.9,232.08 469.3,230.46 469.7,231.44 470.1,230.24 470.5,230.86 470.9,232.16 471.3,232.93 471.7,231.80 472.1,230.91 472.5,231.12 472.9,231.86 473.3,229.73 473.7,231.79 474.1,230.89 474.5,229.18 474.9,226.85 475.3,228.01 475.7,228.85 476.1,226.83 476.5,225.82 476.9,224.67 478.60,221.60 479.60,202.60 480.20,183.60 480.90,170.90 482.00,170.90 482.10,183.60 482.40,202.60 483.00,221.60 483.70,227.60 484.90,232.60 486.00,235.60 488.00,236.60 491.00,237.60 515.9,237.6" fill="#000"/>
<rect x="425.7" y="152.1" width="90.2" height="85.5" fill="none" stroke="#111" stroke-width="1.4"/>
<polygon points="324.7,366.0 324.7,364.33 325.1,364.43 325.5,364.11 325.9,363.99 326.3,363.58 326.7,363.38 327.1,364.31 327.5,364.21 327.9,364.03 328.3,364.08 328.7,363.79 329.1,363.76 329.5,363.82 329.9,363.40 330.3,363.93 330.7,364.24 331.1,364.42 331.5,364.19 331.9,364.18 332.3,364.49 332.7,363.46 333.1,363.63 333.5,363.85 333.9,364.02 334.3,364.29 334.7,363.99 335.1,362.80 335.5,364.50 335.9,363.48 336.3,363.19 336.7,363.43 337.1,363.61 337.5,363.10 337.9,363.92 338.3,363.14 338.7,362.71 339.1,363.83 339.5,363.71 339.9,363.24 340.3,362.81 340.7,362.61 341.1,362.90 341.5,363.53 341.9,363.73 342.3,363.04 342.7,362.94 343.1,363.67 343.5,363.06 343.9,362.89 344.3,362.50 344.7,363.53 345.1,362.67 345.5,363.48 345.9,362.95 346.3,362.61 346.7,361.49 347.1,360.15 347.5,362.00 347.9,361.69 348.3,361.25 348.7,362.89 349.1,361.31 349.5,362.72 349.9,360.55 350.3,360.63 350.7,361.28 351.1,362.23 351.5,360.27 351.9,361.31 352.3,361.37 352.7,360.95 353.1,362.75 353.5,360.96 353.9,360.44 354.3,360.93 354.7,361.04 355.1,361.93 355.5,360.51 355.9,360.84 356.3,360.95 356.7,361.41 357.1,360.09 357.5,359.68 357.9,360.41 358.3,359.90 358.7,359.46 359.1,359.17 359.5,360.36 359.9,360.71 360.3,360.83 360.7,360.37 361.1,359.81 361.5,359.40 361.9,360.57 362.3,359.98 362.7,360.96 363.1,358.83 363.5,360.27 363.9,359.52 364.3,360.44 364.7,359.99 365.1,360.27 365.5,358.03 365.9,359.19 366.3,359.45 366.7,359.90 367.1,359.32 367.5,357.98 367.9,356.72 368.3,359.27 368.7,358.53 369.1,357.59 369.5,357.74 369.9,358.41 370.3,356.62 370.7,355.68 371.1,357.54 371.5,355.64 371.9,354.51 372.3,353.88 372.7,354.54 373.1,351.45 373.5,352.42 373.9,353.05 374.3,350.80 374.7,352.10 375.1,349.65 375.5,351.00 375.9,348.51 376.3,349.15 376.7,346.97 377.1,345.24 377.5,343.43 379.10,335.50 379.20,321.60 380.40,321.60 380.50,280.50 382.10,280.50 382.30,321.60 382.40,336.00 382.50,364.00 384.00,364.80 388.00,365.20 392.00,366.00 414.5,366.0" fill="#000"/>
<rect x="324.7" y="280.5" width="89.8" height="85.5" fill="none" stroke="#111" stroke-width="1.4"/>
<polygon points="425.8,366.0 425.8,363.98 426.2,363.57 426.6,364.58 427.0,363.72 427.4,363.69 427.8,363.59 428.2,363.44 428.6,362.25 429.0,363.64 429.4,363.32 429.8,363.54 430.2,362.90 430.6,364.40 431.0,362.74 431.4,363.76 431.8,364.44 432.2,363.87 432.6,363.41 433.0,363.20 433.4,363.28 433.8,362.82 434.2,363.19 434.6,363.17 435.0,364.19 435.4,362.81 435.8,362.49 436.2,363.20 436.6,363.95 437.0,363.63 437.4,361.95 437.8,363.17 438.2,363.16 438.6,363.22 439.0,362.32 439.4,363.02 439.8,363.15 440.2,363.50 440.6,362.63 441.0,361.91 441.4,362.58 441.8,361.90 442.2,362.30 442.6,362.28 443.0,362.22 443.4,362.27 443.8,361.58 444.2,361.90 444.6,362.57 445.0,362.06 445.4,362.16 445.8,361.73 446.2,361.90 446.6,361.70 447.0,362.99 447.4,361.61 447.8,360.87 448.2,362.78 448.6,360.53 449.0,361.45 449.4,361.78 449.8,362.97 450.2,360.66 450.6,362.23 451.0,361.82 451.4,360.92 451.8,362.15 452.2,362.08 452.6,362.17 453.0,361.25 453.4,360.60 453.8,360.70 454.2,360.64 454.6,361.25 455.0,360.77 455.4,361.46 455.8,358.97 456.2,360.56 456.6,362.46 457.0,361.60 457.4,359.12 457.8,361.77 458.2,360.81 458.6,359.87 459.0,361.06 459.4,358.92 459.8,358.18 460.2,360.29 460.6,358.33 461.0,360.00 461.4,359.92 461.8,358.61 462.2,358.45 462.6,359.03 463.0,357.55 463.4,359.47 463.8,358.74 464.2,358.77 464.6,356.92 465.0,356.71 465.4,356.66 465.8,358.27 466.2,356.78 466.6,356.28 467.0,357.97 467.4,357.05 467.8,355.51 468.2,355.26 468.6,355.47 469.0,355.01 469.4,355.01 469.8,354.96 470.2,355.00 470.6,355.49 471.0,354.72 471.4,354.67 471.8,351.99 472.2,353.66 472.6,353.71 473.0,353.71 473.4,353.40 473.8,353.24 474.2,352.08 474.6,352.19 475.0,351.01 475.4,351.96 475.8,350.59 476.2,349.70 476.6,351.13 477.0,349.51 477.4,349.02 477.8,349.14 478.2,348.86 478.60,348.00 480.40,339.30 480.50,321.60 481.30,321.60 481.40,280.50 483.00,280.50 483.30,321.60 483.40,336.00 483.50,364.00 485.00,364.80 489.00,365.20 493.00,366.00 515.9,366.0" fill="#000"/>
<rect x="425.8" y="280.5" width="90.1" height="85.5" fill="none" stroke="#111" stroke-width="1.4"/>
<text x="369.80" y="32.30" font-size="12.0" font-weight="bold" text-anchor="middle">Medium</text>
<text x="471.00" y="32.70" font-size="12.0" font-weight="bold" text-anchor="middle">GM-CSF</text>
<text x="369.70" y="148.80" font-size="12.0" font-weight="bold" text-anchor="middle">IVIg</text>
<text x="471.00" y="148.80" font-size="12.0" font-weight="bold" text-anchor="middle">GM-CSF + IVIg</text>
<text x="331.30" y="265.60" font-size="12.0" font-weight="bold" text-anchor="start">Anti-Siglec-9-</text>
<text x="331.30" y="275.60" font-size="12.0" font-weight="bold" text-anchor="start">depleted IVIg</text>
<text x="430.90" y="257.00" font-size="12.0" font-weight="bold" text-anchor="start">GM-CSF +</text>
<text x="430.90" y="267.50" font-size="12.0" font-weight="bold" text-anchor="start">anti-Siglec-9-</text>
<text x="430.90" y="277.50" font-size="12.0" font-weight="bold" text-anchor="start">depleted IVIg</text>
<text x="341.20" y="91.80" font-size="10.7" font-weight="bold" text-anchor="start">12%</text>
<text x="441.00" y="91.00" font-size="10.7" font-weight="bold" text-anchor="start">6%</text>
<text x="340.80" y="212.00" font-size="10.7" font-weight="bold" text-anchor="start">23%</text>
<text x="441.00" y="212.00" font-size="10.7" font-weight="bold" text-anchor="start">51%</text>
<text x="340.60" y="339.50" font-size="10.7" font-weight="bold" text-anchor="start">21%</text>
<text x="440.60" y="340.60" font-size="10.7" font-weight="bold" text-anchor="start">26%</text>
<path d="M326.2 100.0 H371.2 M326.2 96.7 V103.3 M371.2 96.7 V103.3" stroke="#222" stroke-width="1.3" fill="none"/>
<path d="M427.6 100.3 H472.3 M427.6 97.0 V103.6 M472.3 97.0 V103.6" stroke="#222" stroke-width="1.3" fill="none"/>
<path d="M326.2 216.6 H371.2 M326.2 213.29999999999998 V219.9 M371.2 213.29999999999998 V219.9" stroke="#222" stroke-width="1.3" fill="none"/>
<path d="M427.3 216.2 H472.2 M427.3 212.89999999999998 V219.5 M472.2 212.89999999999998 V219.5" stroke="#222" stroke-width="1.3" fill="none"/>
<path d="M326.3 345.3 H371.2 M326.3 342.0 V348.6 M371.2 342.0 V348.6" stroke="#222" stroke-width="1.3" fill="none"/>
<path d="M427.4 344.2 H472.4 M427.4 340.9 V347.5 M472.4 340.9 V347.5" stroke="#222" stroke-width="1.3" fill="none"/>
<path d="M314.5 366.0 V41" stroke="#111" stroke-width="1.7"/>
<polygon points="314.5,35.6 311.1,42.4 317.9,42.4" fill="#111"/>
<path d="M324.8 375.4 H509" stroke="#111" stroke-width="1.6"/>
<polygon points="515.8,375.4 508.6,372 508.6,378.8" fill="#111"/>
<text x="308.30" y="191.00" font-size="13.2" font-weight="bold" text-anchor="middle" transform="rotate(-90 308.3 191.0)">Counts</text>
<text x="410.40" y="390.00" font-size="12.6" font-weight="bold" text-anchor="start">DNA</text>
<text x="2.20" y="414.00" font-size="25.8" font-weight="bold" text-anchor="start">C</text>
<path d="M50.3 426.7 V586 M45.2 586 H289.2" stroke="#111" stroke-width="1.7" fill="none"/>
<path d="M45.2 586.00 H50.3" stroke="#111" stroke-width="1.5"/>
<text x="41.50" y="590.30" font-size="12.3" text-anchor="end">0</text>
<path d="M45.2 554.14 H50.3" stroke="#111" stroke-width="1.5"/>
<text x="41.50" y="558.44" font-size="12.3" text-anchor="end">20</text>
<path d="M45.2 522.28 H50.3" stroke="#111" stroke-width="1.5"/>
<text x="41.50" y="526.58" font-size="12.3" text-anchor="end">40</text>
<path d="M45.2 490.42 H50.3" stroke="#111" stroke-width="1.5"/>
<text x="41.50" y="494.72" font-size="12.3" text-anchor="end">60</text>
<path d="M45.2 458.56 H50.3" stroke="#111" stroke-width="1.5"/>
<text x="41.50" y="462.86" font-size="12.3" text-anchor="end">80</text>
<path d="M45.2 426.70 H50.3" stroke="#111" stroke-width="1.5"/>
<text x="41.50" y="431.00" font-size="12.3" text-anchor="end">100</text>
<text x="17.30" y="509.50" font-size="12.4" font-weight="bold" text-anchor="middle" transform="rotate(-90 17.3 509.5)">Relative cell number (%)</text>
<path d="M59.45 463.1 V461.3 M56.65 461.3 H62.25" stroke="#111" stroke-width="1.2"/>
<rect x="54.50" y="463.1" width="9.90" height="122.90" fill="#fff" stroke="#111" stroke-width="1"/>
<path d="M69.35 550.0 V548.0 M66.55 548.0 H72.15" stroke="#111" stroke-width="1.2"/>
<rect x="64.40" y="550.0" width="9.90" height="36.00" fill="#000" stroke="#111" stroke-width="1"/>
<rect x="74.30" y="585.2" width="9.90" height="0.80" fill="#999" stroke="#111" stroke-width="1"/>
<path d="M99.35 483.3 V479.3 M96.55 479.3 H102.15" stroke="#111" stroke-width="1.2"/>
<rect x="94.40" y="483.3" width="9.90" height="102.70" fill="#fff" stroke="#111" stroke-width="1"/>
<path d="M109.25 530.6 V526.4 M106.45 526.4 H112.05" stroke="#111" stroke-width="1.2"/>
<rect x="104.30" y="530.6" width="9.90" height="55.40" fill="#000" stroke="#111" stroke-width="1"/>
<rect x="114.20" y="585.2" width="9.90" height="0.80" fill="#999" stroke="#111" stroke-width="1"/>
<path d="M139.15 479.3 V473.3 M136.35 473.3 H141.95" stroke="#111" stroke-width="1.2"/>
<rect x="134.20" y="479.3" width="9.90" height="106.70" fill="#fff" stroke="#111" stroke-width="1"/>
<path d="M149.05 527.2 V517.3 M146.25 517.3 H151.85" stroke="#111" stroke-width="1.2"/>
<rect x="144.10" y="527.2" width="9.90" height="58.80" fill="#000" stroke="#111" stroke-width="1"/>
<rect x="154.00" y="585.2" width="9.90" height="0.80" fill="#999" stroke="#111" stroke-width="1"/>
<path d="M179.65 440.2 V438.0 M176.85 438.0 H182.45" stroke="#111" stroke-width="1.2"/>
<rect x="174.70" y="440.2" width="9.90" height="145.80" fill="#fff" stroke="#111" stroke-width="1"/>
<rect x="184.60" y="577.0" width="9.90" height="9.00" fill="#000" stroke="#111" stroke-width="1"/>
<rect x="194.50" y="585.4" width="9.90" height="0.60" fill="#999" stroke="#111" stroke-width="1"/>
<path d="M219.35 508.9 V504.0 M216.55 504.0 H222.15" stroke="#111" stroke-width="1.2"/>
<rect x="214.40" y="508.9" width="9.90" height="77.10" fill="#fff" stroke="#111" stroke-width="1"/>
<path d="M229.25 558.7 V553.3 M226.45 553.3 H232.05" stroke="#111" stroke-width="1.2"/>
<rect x="224.30" y="558.7" width="9.90" height="27.30" fill="#000" stroke="#111" stroke-width="1"/>
<path d="M239.15 532.5 V527.7 M236.35 527.7 H241.95" stroke="#111" stroke-width="1.2"/>
<rect x="234.20" y="532.5" width="9.90" height="53.50" fill="#999" stroke="#111" stroke-width="1"/>
<path d="M259.15 467.9 V462.5 M256.35 462.5 H261.95" stroke="#111" stroke-width="1.2"/>
<rect x="254.20" y="467.9" width="9.90" height="118.10" fill="#fff" stroke="#111" stroke-width="1"/>
<path d="M269.05 554.1 V547.9 M266.25 547.9 H271.85" stroke="#111" stroke-width="1.2"/>
<rect x="264.10" y="554.1" width="9.90" height="31.90" fill="#000" stroke="#111" stroke-width="1"/>
<path d="M278.95 577.5 V574.8 M276.15 574.8 H281.75" stroke="#111" stroke-width="1.2"/>
<rect x="274.00" y="577.5" width="9.90" height="8.50" fill="#999" stroke="#111" stroke-width="1"/>
<path d="M240.8 456.9 H281.7" stroke="#111" stroke-width="1.2"/>
<text x="261.90" y="459.30" font-size="18" font-weight="bold" text-anchor="middle">***</text>
<rect x="313.4" y="432.3" width="23.2" height="8.4" fill="#fff" stroke="#111" stroke-width="1"/>
<rect x="313.4" y="450.3" width="23.2" height="8.4" fill="#000" stroke="#111" stroke-width="1"/>
<rect x="313.4" y="468.6" width="23.2" height="8.4" fill="#999" stroke="#111" stroke-width="1"/>
<text x="340.40" y="441.50" font-size="13" text-anchor="start">normal</text>
<text x="340.40" y="459.60" font-size="13" text-anchor="start">apoptotic</text>
<text x="340.40" y="478.00" font-size="13" text-anchor="start">autophagic-like</text>
<text x="73.20" y="591.30" font-size="13.2" font-weight="bold" text-anchor="end" transform="rotate(-90 73.2 591.3)">Medium</text>
<text x="112.60" y="591.30" font-size="13.2" font-weight="bold" text-anchor="end" transform="rotate(-90 112.6 591.3)">IVIg</text>
<text x="148.40" y="591.30" font-size="13.2" font-weight="bold" text-anchor="end" transform="rotate(-90 148.4 591.3)">Anti-Siglec-9-</text>
<text x="158.90" y="591.30" font-size="13.2" font-weight="bold" text-anchor="end" transform="rotate(-90 158.9 591.3)">depleted IVIg</text>
<text x="193.30" y="591.30" font-size="13.2" font-weight="bold" text-anchor="end" transform="rotate(-90 193.3 591.3)">GM-CSF</text>
<text x="233.00" y="591.30" font-size="13.2" font-weight="bold" text-anchor="end" transform="rotate(-90 233.0 591.3)">GM-CSF + IVIg</text>
<text x="267.20" y="591.30" font-size="13.2" font-weight="bold" text-anchor="end" transform="rotate(-90 267.2 591.3)">GM-CSF</text>
<text x="278.30" y="591.30" font-size="13.2" font-weight="bold" text-anchor="end" transform="rotate(-90 278.3 591.3)">+ anti-Siglec-9-</text>
<text x="289.20" y="591.30" font-size="13.2" font-weight="bold" text-anchor="end" transform="rotate(-90 289.2 591.3)">depleted IVIg</text>
<defs><filter id="b1" x="-20%" y="-20%" width="140%" height="140%"><feGaussianBlur stdDeviation="1.3"/></filter><filter id="b2" x="-20%" y="-20%" width="140%" height="140%"><feGaussianBlur stdDeviation="0.55"/></filter><clipPath id="mc"><rect x="316" y="488.5" width="106" height="93"/></clipPath></defs>
<rect x="315" y="487.5" width="108" height="95" fill="#fff"/>
<g clip-path="url(#mc)">
<filter id="tx" x="-30%" y="-30%" width="160%" height="160%"><feGaussianBlur in="SourceGraphic" stdDeviation="1.4" result="bl"/><feTurbulence type="fractalNoise" baseFrequency="0.45" numOctaves="2" seed="7" result="tn"/><feColorMatrix in="tn" type="matrix" values="0 0 0 0 0  0 0 0 0 0  0 0 0 0 0  0 0 0 -2.2 2.1" result="ta"/><feComposite in="bl" in2="ta" operator="in"/></filter>
<g filter="url(#tx)" fill="#c0a2e2"><ellipse cx="374" cy="508" rx="14.5" ry="12.5"/><ellipse cx="394" cy="560" rx="13" ry="12.5" fill="#bc9ce0"/><ellipse cx="390" cy="531" rx="7" ry="7" fill="#b494de"/></g>
<g filter="url(#b1)" fill="#efe4f6"><circle cx="349.5" cy="530.4" r="15"/></g>
<g filter="url(#b1)" fill="#9a78d8"><ellipse cx="398" cy="559" rx="6" ry="8"/><ellipse cx="391" cy="528" rx="5" ry="4.5"/></g>
<g filter="url(#b2)" fill="#1e0c80"><circle cx="376.5" cy="511" r="7.2"/><circle cx="374.8" cy="503.5" r="5.2"/><circle cx="386" cy="508" r="4.6"/><circle cx="384" cy="515" r="4.6"/><circle cx="379" cy="506" r="4.5"/><ellipse cx="339.3" cy="532.4" rx="5.4" ry="6.6"/><ellipse cx="344.5" cy="522" rx="3.4" ry="4.8"/><path d="M341.5 523.5 L357 522.5 L362.5 524 L363 530.5 L350 531 L343 532 Z"/><ellipse cx="359.8" cy="533" rx="4.8" ry="8.6"/><ellipse cx="382.6" cy="534.4" rx="12.4" ry="10.6"/><path d="M377.5 555 C377.5 548 386 546.5 392 547.3 C396.5 547.8 397.5 551 395.5 554 C393.5 556 393.5 560 396 563 C396.5 567 390 570.5 386 571.8 C384 572.3 382 569 380 566 C377.2 562 377.2 559 377.5 555 Z"/></g>
<g filter="url(#b2)"><ellipse cx="380.3" cy="536.8" rx="6.4" ry="5.4" fill="#f6ecf6"/><ellipse cx="350.3" cy="538" rx="4.6" ry="4.4" fill="#fbf4fa"/><ellipse cx="351.5" cy="519.5" rx="5" ry="2.8" fill="#f8f0f8"/><ellipse cx="391.8" cy="529" rx="3.6" ry="4.0" fill="#8a68cc"/><ellipse cx="350" cy="527" rx="6.5" ry="1.4" fill="#4a30b0"/><ellipse cx="382" cy="509" rx="2.5" ry="2" fill="#3a22a0"/><ellipse cx="389" cy="556" rx="4" ry="1.6" fill="#6a48c8"/></g>
<circle cx="349.6" cy="530.4" r="14.8" fill="none" stroke="#e2d4ee" stroke-width="1.0" filter="url(#b2)"/>
</g>
<rect x="315" y="487.5" width="108" height="95" fill="none" stroke="#222" stroke-width="1.6"/>
<path d="M349.80 501.20 L349.80 508.00" stroke="#111" stroke-width="1.8"/>
<polygon points="349.80,513.80 346.10,507.00 353.50,507.00" fill="#111"/>
<path d="M335.20 553.60 L340.64 548.83" stroke="#111" stroke-width="1.8"/>
<polygon points="345.00,545.00 342.33,552.27 337.45,546.70" fill="#111"/>
<path d="M358.70 553.60 L364.14 548.83" stroke="#111" stroke-width="1.8"/>
<polygon points="368.50,545.00 365.83,552.27 360.95,546.70" fill="#111"/>
</svg>
</body></html>
